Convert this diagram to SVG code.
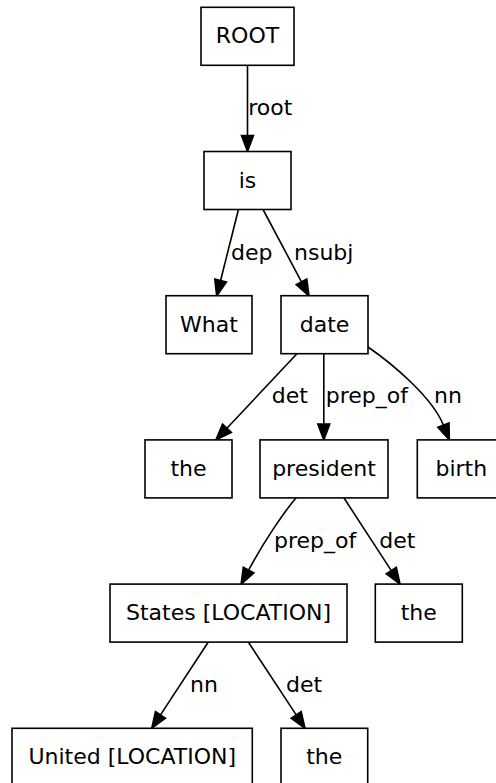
<svg xmlns="http://www.w3.org/2000/svg" width="496" height="783" viewBox="0 0 496 783">
  <defs>
    <style>
      .node rect { fill: #ffffff; stroke: #000000; stroke-width: 1.6; }
      .node text { font-family: "DejaVu Sans", sans-serif; font-size: 22px; fill: #000000; text-anchor: middle; }
      .edge path { fill: none; stroke: #000000; stroke-width: 1.6; marker-end: url(#arrow); }
      .edge text { font-family: "DejaVu Sans", sans-serif; font-size: 22px; fill: #000000; text-anchor: start; }
    </style>
    <marker id="arrow" markerUnits="userSpaceOnUse" markerWidth="16" markerHeight="12" viewBox="0 0 16 12" refX="0" refY="6" orient="auto" overflow="visible">
      <path d="M0,0 L16,6 L0,12 Z" fill="#000000" stroke="#000000" stroke-width="1.6"/>
    </marker>
  </defs>
  <rect width="496" height="783" fill="#ffffff"/>

  <!-- dependency arcs -->
  <g id="edges">
    <g class="edge" id="e-root"><path d="M247.5,65.3 L247.5,135.5"/><text x="248.3" y="115">root</text></g>
    <g class="edge" id="e-dep"><path d="M238.3,210 L220.6,280.5"/><text x="231" y="260">dep</text></g>
    <g class="edge" id="e-nsubj"><path d="M263.3,210 L301.5,281.9"/><text x="294" y="260">nsubj</text></g>
    <g class="edge" id="e-det1"><path d="M296.7,354 L226.9,428.3"/><text x="271.7" y="403">det</text></g>
    <g class="edge" id="e-prep1"><path d="M323.8,354 L323.8,424"/><text x="325.7" y="403">prep_of</text></g>
    <g class="edge" id="e-nn1"><path d="M368,347 C392.6,364 432.3,397.3 443.4,425.1"/><text x="434" y="403">nn</text></g>
    <g class="edge" id="e-prep2"><path d="M296,498 C284,512 263,543 248.6,570.1"/><text x="274" y="548">prep_of</text></g>
    <g class="edge" id="e-det2"><path d="M344,498 L391.3,570.6"/><text x="379.3" y="548">det</text></g>
    <g class="edge" id="e-nn2"><path d="M208.3,642 L160.5,714.9"/><text x="190" y="692">nn</text></g>
    <g class="edge" id="e-det3"><path d="M248.3,642 L296.2,714.9"/><text x="286" y="692">det</text></g>
  </g>

  <!-- tokens -->
  <g class="node" id="n-root"><rect x="201" y="7.3" width="93" height="58"/><text x="247.5" y="43.3">ROOT</text></g>
  <g class="node" id="n-is"><rect x="204" y="151.5" width="87" height="58"/><text x="247.5" y="187.5">is</text></g>
  <g class="node" id="n-what"><rect x="166" y="295.7" width="86" height="58"/><text x="209" y="331.7">What</text></g>
  <g class="node" id="n-date"><rect x="281" y="295.7" width="87" height="58"/><text x="324.5" y="331.7">date</text></g>
  <g class="node" id="n-the1"><rect x="145" y="439.9" width="87" height="58"/><text x="188.5" y="475.9">the</text></g>
  <g class="node" id="n-president"><rect x="260" y="439.9" width="128" height="58"/><text x="324" y="475.9">president</text></g>
  <g class="node" id="n-birth"><rect x="417.3" y="439.9" width="88" height="58"/><text x="461.3" y="475.9">birth</text></g>
  <g class="node" id="n-states"><rect x="110" y="584.1" width="237" height="58"/><text x="228.5" y="620.1">States [LOCATION]</text></g>
  <g class="node" id="n-the2"><rect x="375.3" y="584.1" width="87" height="58"/><text x="418.8" y="620.1">the</text></g>
  <g class="node" id="n-united"><rect x="12" y="728.3" width="240.3" height="58"/><text x="132.2" y="764.3">United [LOCATION]</text></g>
  <g class="node" id="n-the3"><rect x="281" y="728.3" width="86.7" height="58"/><text x="324.3" y="764.3">the</text></g>
</svg>
